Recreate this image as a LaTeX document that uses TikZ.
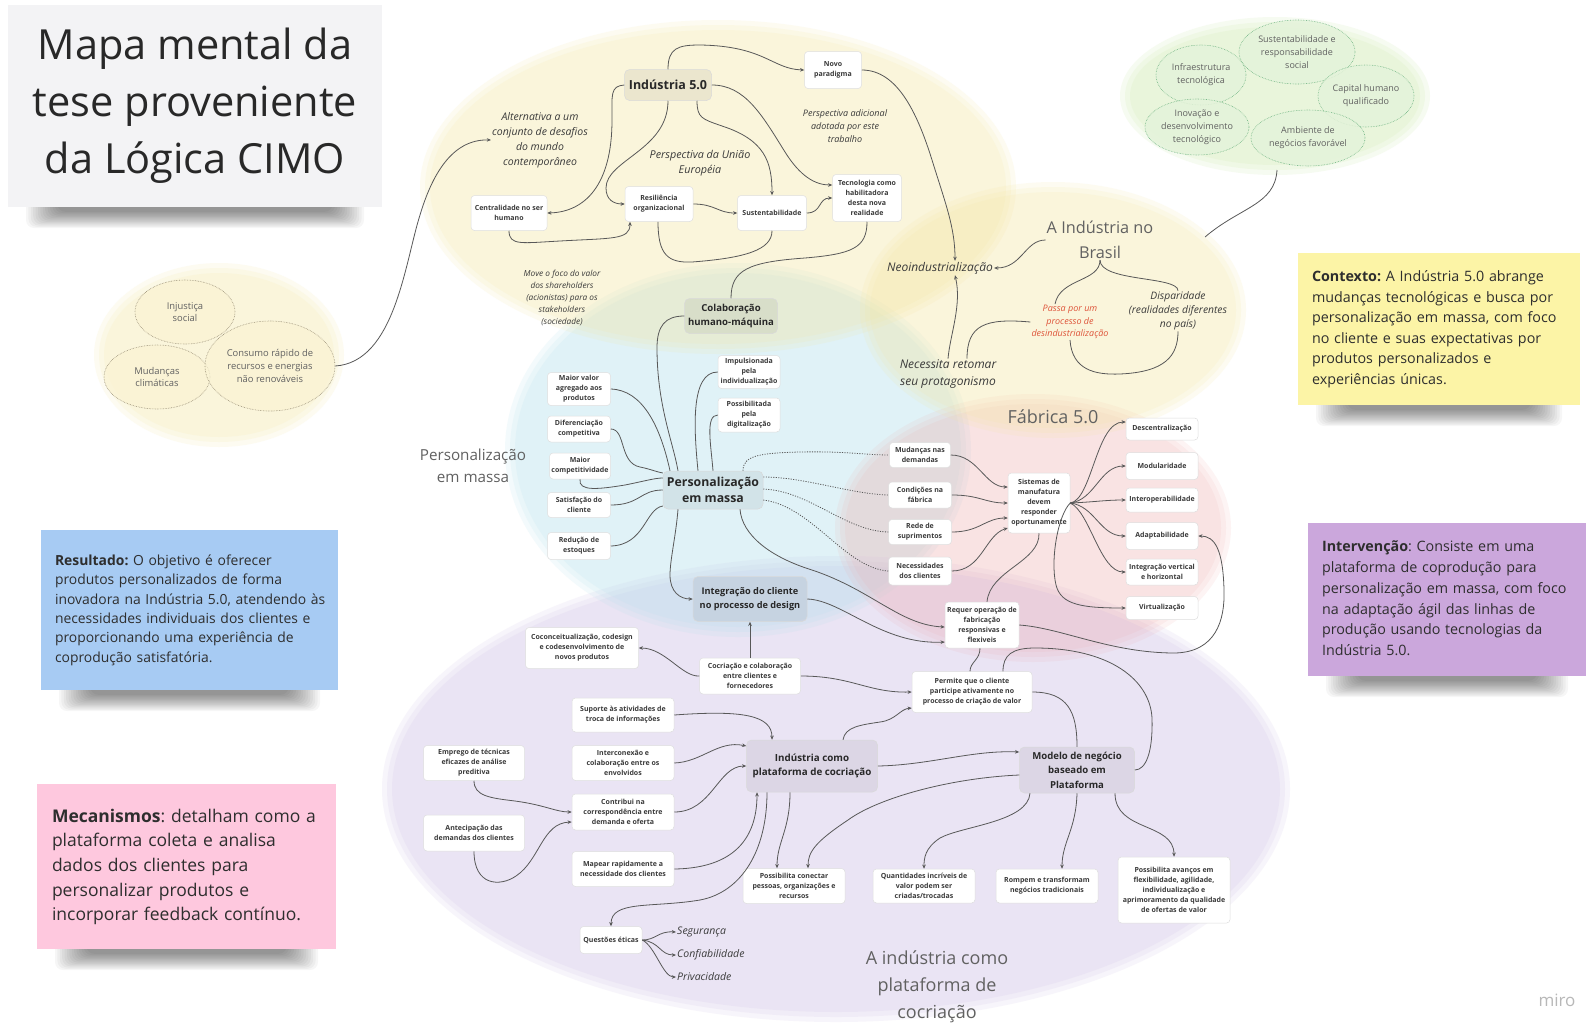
\documentclass[tikz,border=0pt]{standalone}
\usepackage{fontspec}
\setmainfont{Open Sans}
\usetikzlibrary{arrows.meta,calc,shapes.geometric}
\frenchspacing

% palette
\definecolor{inkdark}{RGB}{40,40,40}
\definecolor{txt}{RGB}{58,58,58}
\definecolor{lnk}{RGB}{88,88,88}
\definecolor{blobyellow}{RGB}{245,230,160}
\definecolor{blobcyan}{RGB}{175,222,235}
\definecolor{blobpink}{RGB}{240,170,170}
\definecolor{bloblav}{RGB}{200,180,225}
\definecolor{blobgreen}{RGB}{205,235,170}
\definecolor{pillgreen}{RGB}{228,243,218}
\definecolor{dotgreen}{RGB}{110,180,130}
\definecolor{pillyellow}{RGB}{250,243,212}
\definecolor{dotbrown}{RGB}{150,140,115}
\definecolor{redtext}{RGB}{222,84,58}
\definecolor{notetitle}{RGB}{243,243,245}
\definecolor{noteyellow}{RGB}{252,244,166}
\definecolor{notepurple}{RGB}{203,167,220}
\definecolor{noteblue}{RGB}{167,203,243}
\definecolor{notepink}{RGB}{254,200,222}

\newcommand\mmfs[2]{\fontsize{#1}{#2}\selectfont}
% soft-edged translucent region: centre, x radius, y radius, colour, layer opacity
\newcommand\softblob[5]{%
  \foreach \g in {10,5,0}{%
    \pgfmathsetmacro\blobrx{#2+\g}%
    \pgfmathsetmacro\blobry{#3+\g}%
    \fill[#4, fill opacity=#5] #1 ellipse[x radius=\blobrx pt, y radius=\blobry pt];}}
% blurred shadow under a sticky note: left x, right x, bottom y
\newcommand\noteshade[3]{%
  \foreach \k in {0,...,13}{%
    \fill[black, opacity=0.036, rounded corners=8pt]
      ({#1+18+2.4*\k},{#3-10}) rectangle ({#2-18-2.4*\k},{#3+21-1.25*\k});}}

\begin{document}
\begin{tikzpicture}[x=1pt, y=-1pt,
  con/.style={draw=lnk, line width=0.8pt},
  arr/.style={con, -{Stealth[length=4.2pt,width=3.6pt]}},
  dotcon/.style={con, dash pattern=on 1.1pt off 1.4pt},
  box/.style={draw=black!13, fill=white, rounded corners=3.5pt, line width=0.5pt,
    align=center, inner sep=1pt, text=txt, font=\mmfs{7}{10}\bfseries},
  hub/.style={draw=black!15, fill=black, fill opacity=0.06, text opacity=1,
    rounded corners=5pt, line width=0.5pt, align=center, inner sep=1pt, text=inkdark},
  ann/.style={align=center, inner sep=1pt, text=txt},
  bigl/.style={align=center, inner sep=1pt, text=black!62},
  pillg/.style={ellipse, draw=dotgreen, densely dotted, fill=pillgreen, fill opacity=0.85,
    text opacity=1, line width=0.6pt, inner sep=0pt, align=center, text=black!62,
    font=\mmfs{9}{13}},
  pilly/.style={ellipse, draw=dotbrown, densely dotted, fill=pillyellow, fill opacity=0.75,
    text opacity=1, line width=0.6pt, inner sep=0pt, align=center, text=black!62,
    font=\mmfs{9.4}{12.8}},
  note/.style={inner xsep=14pt, inner ysep=0pt, align=left, text=black!82}
]
\useasboundingbox (0,0) rectangle (1586,1028);
\fill[white] (0,0) rectangle (1586,1028);

% ---------- background regions ----------
\softblob{(836,789)}{444}{223}{bloblav}{0.13}
\softblob{(738,450)}{223}{177}{blobcyan}{0.14}
\softblob{(1033,528)}{188}{124}{blobpink}{0.12}
\softblob{(718,187)}{288}{157}{blobyellow}{0.14}
\softblob{(1053,310)}{183}{118}{blobyellow}{0.14}
\softblob{(219,355)}{115}{82}{blobyellow}{0.14}
\softblob{(1275,96)}{145}{69}{blobgreen}{0.16}
\coordinate (gtip) at (1277,170);
\coordinate (brtip) at (1205,237);

% ---------- sticky notes ----------
\noteshade{8}{382}{207}
\noteshade{1298}{1580}{405}
\noteshade{1308}{1586}{676}
\noteshade{41}{338}{690}
\noteshade{37}{336}{949}

\node[fill=notetitle, minimum width=374pt, minimum height=202pt, inner sep=0pt,
  align=center, text=inkdark, font=\mmfs{41.5}{57}] (title) at (195,106)
  {Mapa mental da\\tese proveniente\\da Lógica CIMO};

\node[note, fill=noteyellow, minimum width=282pt, minimum height=152pt, text width=254pt,
  font=\mmfs{14.3}{20.5}] (ctx) at (1439,329)
  {\begin{tabular}{@{}l@{}}\textbf{Contexto:} A Indústria 5.0 abrange\\
   mudanças tecnológicas e busca por\\personalização em massa, com foco\\
   no cliente e suas expectativas por\\produtos personalizados e\\experiências únicas.\end{tabular}};

\node[note, fill=notepurple, minimum width=278pt, minimum height=153pt, text width=250pt,
  font=\mmfs{14.3}{20.8}] (interv) at (1447,599.5)
  {\begin{tabular}{@{}l@{}}\textbf{Intervenção}: Consiste em uma\\plataforma de coprodução para\\
   personalização em massa, com foco\\na adaptação ágil das linhas de\\
   produção usando tecnologias da\\Indústria 5.0.\end{tabular}};

\node[note, fill=noteblue, minimum width=297pt, minimum height=160pt, text width=269pt,
  font=\mmfs{13.9}{19.3}] (result) at (189.5,610)
  {\begin{tabular}{@{}l@{}}\textbf{Resultado:} O objetivo é oferecer\\produtos personalizados de forma\\
   inovadora na Indústria 5.0, atendendo às\\necessidades individuais dos clientes e\\
   proporcionando uma experiência de\\coprodução satisfatória.\end{tabular}};

\node[note, inner xsep=15pt, fill=notepink, minimum width=299pt, minimum height=165pt,
  text width=269pt, font=\mmfs{17.5}{24.6}] (mecan) at (186.5,866.5)
  {\begin{tabular}{@{}l@{}}\textbf{Mecanismos}: detalham como a\\plataforma coleta e analisa\\
   dados dos clientes para\\personalizar produtos e\\incorporar feedback contínuo.\end{tabular}};

% ---------- challenges of the contemporary world ----------
\node[pilly, minimum width=100pt, minimum height=64pt] (injust) at (185,312) {Injustiça\\social};
\node[pilly, minimum width=106pt, minimum height=64pt] (mudclim) at (157,377) {Mudanças\\climáticas};
\node[pilly, minimum width=130pt, minimum height=90pt] (consumo) at (270,366)
  {Consumo rápido de\\recursos e energias\\não renováveis};

% ---------- success factors ----------
\node[pillg, minimum width=116pt, minimum height=64pt] (gsust) at (1297,52)
  {Sustentabilidade e\\responsabilidade\\social};
\node[pillg, minimum width=90pt, minimum height=60pt] (ginfra) at (1201,75)
  {Infraestrutura\\tecnológica};
\node[pillg, minimum width=96pt, minimum height=62pt] (gcap) at (1366,96)
  {Capital humano\\qualificado};
\node[pillg, minimum width=104pt, minimum height=56pt] (ginov) at (1197,127)
  {Inovação e\\desenvolvimento\\tecnológico};
\node[pillg, minimum width=114pt, minimum height=56pt] (gamb) at (1308,138)
  {Ambiente de\\negócios favorável};

% ---------- Indústria 5.0 ----------
\node[hub, minimum width=87pt, minimum height=31pt, font=\mmfs{12.5}{15}\bfseries] (ind) at (668,85) {Indústria 5.0};
\node[box, minimum width=57pt, minimum height=37pt] (novo) at (833,70) {Novo\\paradigma};
\node[box, minimum width=76pt, minimum height=35pt] (cent) at (509,213) {Centralidade no ser\\humano};
\node[box, minimum width=68pt, minimum height=35pt] (resil) at (659,204) {Resiliência\\organizacional};
\node[box, minimum width=69pt, minimum height=35pt] (sust) at (772,213) {Sustentabilidade};
\node[box, minimum width=69pt, minimum height=47pt] (tec) at (867,198) {Tecnologia como\\habilitadora\\desta nova\\realidade};
\node[hub, minimum width=93pt, minimum height=35pt, font=\mmfs{9.6}{13.3}\bfseries] (colab) at (731,316) {Colaboração\\humano-máquina};

\node[ann, font=\mmfs{10.5}{15}\itshape] (alt) at (540,140) {Alternativa a um\\conjunto de desafios\\do mundo\\contemporâneo};
\node[ann, font=\mmfs{10.8}{15}\itshape] (ue) at (700,163) {Perspectiva da União\\Européia};
\node[ann, font=\mmfs{9}{13}\itshape] (padic) at (845,126) {Perspectiva adicional\\adotada por este\\trabalho};
\node[ann, font=\mmfs{8.3}{12}\itshape] (foco) at (562,298) {Move o foco do valor\\dos shareholders\\(acionistas) para os\\stakeholders\\(sociedade)};

\draw[arr] (ind.west) .. controls (610,86) and (612,95) .. (612,120) .. controls (612,185) and (585,212) .. (cent.east);
\draw[arr] (ind.south) .. controls (668,150) and (606,160) .. (606,188) .. controls (606,200) and (614,204) .. (resil.west);
\draw[arr] (ind.north) .. controls (668,48) and (678,45) .. (700,45) .. controls (765,46) and (772,69) .. (novo.west);
\draw[arr] ([xshift=29pt]ind.south) .. controls (697,118) and (702,119) .. (722,126) .. controls (765,140) and (772,162) .. (sust.north);
\draw[arr] (ind.east) .. controls (745,85) and (762,115) .. (785,152) .. controls (800,176) and (815,185) .. ([yshift=13pt]tec.west);
\draw[arr] (resil.east) .. controls (715,204) and (718,213) .. (sust.west);
\draw[arr] (sust.east) .. controls (822,213) and (818,198) .. (tec.west);
\draw[arr] (cent.south) .. controls (509,246) and (522,243) .. (560,241) .. controls (612,238) and (630,240) .. ([xshift=-29pt]resil.south);
\draw[con] ([xshift=-1pt]resil.south) .. controls (658,255) and (668,263) .. (692,262) .. controls (745,258) and (772,250) .. (sust.south);
\draw[con] (tec.south) .. controls (867,248) and (852,254) .. (805,258) .. controls (748,262) and (731,270) .. (colab.north);
\draw[arr] (consumo.east) .. controls (395,362) and (405,262) .. (420,215) .. controls (432,175) and (452,139) .. (alt.west);

% ---------- A Indústria no Brasil ----------
\node[ann, font=\mmfs{12}{15}\itshape] (neo) at (940,268) {Neoindustrialização};
\node[bigl, font=\mmfs{16.3}{25}] (bras) at (1100,240) {A Indústria no\\Brasil};
\node[ann, text=redtext, font=\mmfs{9}{12.5}\itshape] (passa) at (1070,322) {Passa por um\\processo de\\desindustrialização};
\node[ann, font=\mmfs{10.3}{14}\itshape] (disp) at (1178,311) {Disparidade\\(realidades diferentes\\no país)};
\node[ann, font=\mmfs{12}{16.5}\itshape] (nec) at (948,374) {Necessita retomar\\seu protagonismo};

\draw[arr] (novo.east) .. controls (897,70) and (917,112) .. (932,160) .. controls (946,205) and (955,228) .. ([xshift=15pt]neo.north);
\draw[arr] (nec.north) .. controls (950,335) and (962,305) .. ([xshift=15pt]neo.south);
\draw[arr] (bras.west) .. controls (1025,240) and (1022,268) .. (neo.east);
\draw[con] (bras.south) .. controls (1100,282) and (1060,278) .. ([xshift=-15pt]passa.north);
\draw[con] (bras.south) .. controls (1100,282) and (1178,276) .. (disp.north);
\draw[con] (passa.west) .. controls (985,318) and (967,325) .. ([xshift=19pt]nec.north);
\draw[con] (passa.south) .. controls (1072,370) and (1095,375) .. (1120,374) .. controls (1165,372) and (1178,356) .. (disp.south);
\draw[con] (gtip) .. controls (1275,205) and (1240,207) .. (brtip);

% ---------- Personalização em massa ----------
\node[bigl, font=\mmfs{15.2}{21.5}] (plabel) at (473,466) {Personalização\\em massa};
\node[hub, minimum width=100pt, minimum height=38pt, font=\mmfs{12.3}{16.5}\bfseries] (pers) at (713,490) {Personalização\\em massa};
\node[box, minimum width=63pt, minimum height=33pt] (mva) at (579,389) {Maior valor\\agregado aos\\produtos};
\node[box, minimum width=63pt, minimum height=26pt] (dif) at (579,429) {Diferenciação\\competitiva};
\node[box, minimum width=61pt, minimum height=26pt] (mcomp) at (580,466) {Maior\\competitividade};
\node[box, minimum width=63pt, minimum height=25pt] (sat) at (579,505) {Satisfação do\\cliente};
\node[box, minimum width=63pt, minimum height=27pt] (reduc) at (579,546) {Redução de\\estoques};
\node[box, minimum width=62pt, minimum height=33pt] (imp) at (749,372) {Impulsionada\\pela\\individualização};
\node[box, minimum width=62pt, minimum height=34pt] (poss) at (749,415) {Possibilitada\\pela\\digitalização};

\draw[con] (colab.west) .. controls (665,316) and (657,326) .. (657,348) .. controls (657,405) and (673,442) .. ([xshift=-35pt]pers.north);
\draw[con] ([xshift=-15pt]pers.north) .. controls (694,430) and (690,372) .. (imp.west);
\draw[con] (pers.north) .. controls (711,445) and (705,415) .. (poss.west);
\draw[con] (mva.east) .. controls (642,390) and (660,425) .. ([xshift=-43pt]pers.north);
\draw[con] (dif.east) .. controls (626,429) and (619,463) .. (640,467) .. controls (650,469) and (657,472) .. ([yshift=17pt]pers.west);
\draw[con] (mcomp.south) .. controls (578,492) and (600,489) .. (625,485) .. controls (645,481) and (655,478) .. ([yshift=12pt]pers.west);
\draw[con] (sat.east) .. controls (640,505) and (640,490) .. (pers.west);
\draw[con] (reduc.east) .. controls (645,545) and (645,509) .. ([yshift=-16pt]pers.west);

% ---------- Fábrica 5.0 ----------
\node[bigl, font=\mmfs{18}{22}] (flabel) at (1053,417) {Fábrica 5.0};
\node[box, minimum width=61pt, minimum height=25pt] (mud) at (920,455) {Mudanças nas\\demandas};
\node[box, minimum width=63pt, minimum height=26pt] (cond) at (920,495) {Condições na\\fábrica};
\node[box, minimum width=63pt, minimum height=25pt] (rede) at (920,532) {Rede de\\suprimentos};
\node[box, minimum width=63pt, minimum height=28pt] (necs) at (920,571) {Necessidades\\dos clientes};
\node[box, minimum width=62pt, minimum height=60pt] (sist) at (1039,503) {Sistemas de\\manufatura\\devem\\responder\\oportunamente};
\node[box, minimum width=72pt, minimum height=22pt] (desc) at (1162,429) {Descentralização};
\node[box, minimum width=72pt, minimum height=27pt] (modu) at (1162,466) {Modularidade};
\node[box, minimum width=72pt, minimum height=24pt] (inter) at (1162,500) {Interoperabilidade};
\node[box, minimum width=72pt, minimum height=27pt] (adap) at (1162,536) {Adaptabilidade};
\node[box, minimum width=72pt, minimum height=26pt] (integv) at (1162,572) {Integração vertical\\e horizontal};
\node[box, minimum width=72pt, minimum height=23pt] (virt) at (1162,608) {Virtualização};
\node[box, minimum width=74pt, minimum height=46pt] (requer) at (982,625) {Requer operação de\\fabricação\\responsivas e\\flexiveis};

\draw[dotcon] ([xshift=30pt]pers.north) .. controls (743,456) and (758,453) .. (800,452) .. controls (845,451) and (865,455) .. (mud.west);
\draw[dotcon] ([yshift=13pt]pers.east) .. controls (805,477) and (850,494) .. (cond.west);
\draw[dotcon] ([yshift=1pt]pers.east) .. controls (810,491) and (845,531) .. (rede.west);
\draw[dotcon] ([yshift=-10pt]pers.east) .. controls (812,506) and (845,568) .. (necs.west);

\draw[arr] (mud.east) .. controls (978,455) and (985,487) .. ([yshift=16pt]sist.west);
\draw[arr] (cond.east) .. controls (980,495) and (985,503) .. (sist.west);
\draw[arr] (rede.east) .. controls (980,532) and (985,518) .. ([yshift=-15pt]sist.west);
\draw[arr] (necs.east) .. controls (982,571) and (985,535) .. ([yshift=-25pt]sist.west);
\draw[con] (sist.south) .. controls (1040,562) and (990,570) .. ([xshift=5pt]requer.north);
\draw[arr] (sist.east) .. controls (1092,500) and (1096,422) .. ([yshift=7pt]desc.west);
\draw[arr] (sist.east) .. controls (1095,500) and (1100,466) .. (modu.west);
\draw[arr] (sist.east) .. controls (1095,502) and (1105,500) .. (inter.west);
\draw[arr] (sist.east) .. controls (1095,506) and (1100,536) .. (adap.west);
\draw[arr] (sist.east) .. controls (1090,512) and (1100,572) .. (integv.west);
\draw[arr] (sist.east) .. controls (1058,515) and (1050,560) .. (1056,585) .. controls (1061,605) and (1082,608) .. (virt.west);
\draw[arr] (requer.east) .. controls (1062,628) and (1110,653) .. (1175,653) .. controls (1216,652) and (1225,620) .. (1224,590) .. controls (1223,550) and (1215,536) .. (adap.east);

% ---------- A indústria como plataforma de cocriação ----------
\node[bigl, font=\mmfs{18}{27}] (cplabel) at (937,987) {A indústria como\\plataforma de\\cocriação};
\node[hub, minimum width=114pt, minimum height=45pt, font=\mmfs{9.2}{13.3}\bfseries] (integ) at (750,599) {Integração do cliente\\no processo de design};
\node[box, minimum width=113pt, minimum height=41pt] (cocon) at (582,648) {Coconceitualização, codesign\\e codesenvolvimento de\\novos produtos};
\node[box, minimum width=101pt, minimum height=36pt] (cocri) at (750,676) {Cocriação e colaboração\\entre clientes e\\fornecedores};
\node[box, minimum width=120pt, minimum height=41pt] (permite) at (972,692) {Permite que o cliente\\participe ativamente no\\processo de criação de valor};

\draw[arr] ([xshift=-35pt]pers.south) .. controls (676,535) and (670,560) .. (670,575) .. controls (670,592) and (680,599) .. (integ.west);
\draw[arr] ([xshift=27pt]pers.south) .. controls (742,535) and (770,557) .. (812,570) .. controls (872,590) and (900,625) .. ([yshift=-2pt]requer.west);
\draw[arr] (cocri.north) -- (integ.south);
\draw[arr] (cocri.west) .. controls (682,677) and (665,648) .. (cocon.east);
\draw[arr] (cocri.east) .. controls (852,676) and (868,693) .. (permite.west);
\draw[arr] (integ.east) .. controls (842,600) and (882,645) .. ([yshift=-17pt]requer.west);
\draw[con] ([xshift=-2pt]requer.south) .. controls (980,660) and (970,662) .. ([xshift=-2pt]permite.north);

\node[box, minimum width=102pt, minimum height=34pt] (suporte) at (623,715) {Suporte às atividades de\\troca de informações};
\node[box, minimum width=102pt, minimum height=35pt] (interc) at (623,763) {Interconexão e\\colaboração entre os\\envolvidos};
\node[box, minimum width=102pt, minimum height=36pt] (contrib) at (623,812) {Contribui na\\correspondência entre\\demanda e oferta};
\node[box, minimum width=102pt, minimum height=35pt] (mapear) at (623,869) {Mapear rapidamente a\\necessidade dos clientes};
\node[box, minimum width=101pt, minimum height=35pt] (emprego) at (474,763) {Emprego de técnicas\\eficazes de análise\\preditiva};
\node[box, minimum width=101pt, minimum height=36pt] (antec) at (474,833) {Antecipação das\\demandas dos clientes};
\node[hub, minimum width=131pt, minimum height=52pt, font=\mmfs{9.8}{13.3}\bfseries] (indplat) at (812,766) {Indústria como\\plataforma de cocriação};
\node[box, minimum width=102pt, minimum height=35pt] (possib) at (794,886) {Possibilita conectar\\pessoas, organizações e\\recursos};
\node[box, minimum width=62pt, minimum height=27pt] (etica) at (611,940) {Questões éticas};
\node[ann, anchor=west, font=\mmfs{10.5}{13}\itshape] (seg) at (676,932) {Segurança};
\node[ann, anchor=west, font=\mmfs{10.5}{13}\itshape] (conf) at (676,955) {Confiabilidade};
\node[ann, anchor=west, font=\mmfs{10.5}{13}\itshape] (priv) at (676,977) {Privacidade};

\draw[arr] (suporte.east) .. controls (742,710) and (772,715) .. ([xshift=-40pt]indplat.north);
\draw[arr] (interc.east) .. controls (702,762) and (718,740) .. ([yshift=20pt]indplat.west);
\draw[arr] (contrib.east) .. controls (712,812) and (718,766) .. (indplat.west);
\draw[arr] (mapear.east) .. controls (742,868) and (757,830) .. ([xshift=-55pt]indplat.south);
\draw[arr] (emprego.south) .. controls (474,796) and (490,798) .. (515,801) .. controls (545,805) and (556,812) .. (contrib.west);
\draw[arr] (antec.south) .. controls (474,886) and (500,887) .. (516,876) .. controls (540,860) and (542,823) .. ([yshift=-10pt]contrib.west);
\draw[arr] ([xshift=-22pt]indplat.south) .. controls (790,830) and (777,842) .. ([xshift=-17pt]possib.north);
\draw[arr] ([xshift=-45pt]indplat.south) .. controls (767,850) and (742,892) .. (700,900) .. controls (652,908) and (611,900) .. (etica.north);
\draw[arr] (etica.east) .. controls (656,940) and (658,931) .. (seg.west);
\draw[arr] (etica.east) .. controls (660,942) and (660,955) .. (conf.west);
\draw[arr] (etica.east) .. controls (655,946) and (663,977) .. (priv.west);
\draw[arr] ([xshift=31pt]indplat.north) .. controls (845,727) and (860,725) .. (880,722) .. controls (896,720) and (900,709) .. ([yshift=-16pt]permite.west);

% ---------- Modelo de negócio ----------
\node[hub, minimum width=115pt, minimum height=46pt, font=\mmfs{9.6}{14.5}\bfseries] (modelo) at (1077,770) {Modelo de negócio\\baseado em\\Plataforma};
\node[box, minimum width=102pt, minimum height=34pt] (quant) at (924,886) {Quantidades incríveis de\\valor podem ser\\criadas/trocadas};
\node[box, minimum width=102pt, minimum height=34pt] (rompem) at (1047,886) {Rompem e transformam\\negócios tradicionais};
\node[box, minimum width=112pt, minimum height=66pt] (avanc) at (1174,890) {Possibilita avanços em\\flexibilidade, agilidade,\\individualização e\\aprimoramento da qualidade\\de ofertas de valor};

\draw[arr] (indplat.east) .. controls (930,765) and (972,750) .. ([yshift=18pt]modelo.west);
\draw[arr] ([yshift=-5pt]modelo.west) .. controls (950,778) and (878,798) .. (848,820) .. controls (815,842) and (808,852) .. ([xshift=14pt]possib.north);
\draw[con] (permite.east) .. controls (1068,692) and (1077,712) .. (modelo.north);
\draw[con] ([xshift=31pt]permite.north) .. controls (1003,655) and (1012,648) .. (1035,648) .. controls (1110,648) and (1150,680) .. (1152,718) .. controls (1153,752) and (1146,770) .. (modelo.east);
\draw[arr] ([xshift=-47pt]modelo.south) .. controls (1028,822) and (962,826) .. (940,838) .. controls (925,848) and (924,858) .. (quant.north);
\draw[arr] (modelo.south) .. controls (1076,830) and (1062,842) .. ([xshift=15pt]rompem.north);
\draw[arr] ([xshift=38pt]modelo.south) .. controls (1115,832) and (1174,822) .. (avanc.north);

\node[text=black!28, font=\mmfs{17}{20}] (miro) at (1557,1000) {miro};
\end{tikzpicture}
\end{document}
